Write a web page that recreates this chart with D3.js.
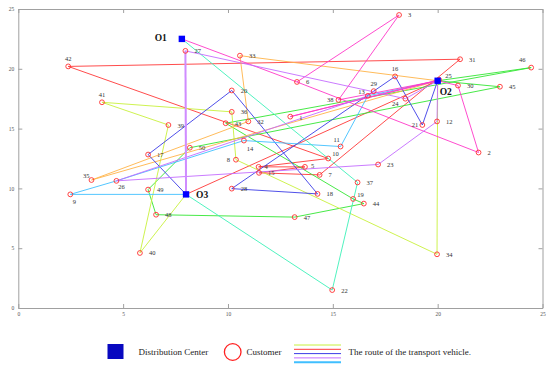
<!DOCTYPE html>
<html>
<head>
<meta charset="utf-8">
<script src="https://cdn.jsdelivr.net/npm/d3@7"></script>
<style>
  body { margin: 0; background: #fff; }
  text { font-family: "Liberation Serif", "DejaVu Serif", serif; }
</style>
</head>
<body>
<script>
// customers: id, x, y
var customers = [
  [1, 12.97, 16.0], [2, 21.95, 13.0], [3, 18.16, 24.5], [4, 11.46, 11.8], [5, 13.67, 11.8],
  [6, 13.29, 18.9], [7, 14.37, 11.13], [8, 10.38, 12.4], [9, 2.48, 9.5], [10, 14.78, 12.5],
  [11, 15.37, 13.5], [12, 19.97, 15.6], [13, 16.67, 17.74], [14, 10.76, 14.0], [15, 11.48, 11.3],
  [16, 17.97, 19.36], [17, 6.19, 12.83], [18, 14.27, 9.54], [19, 15.97, 9.12], [20, 10.18, 18.19],
  [21, 19.27, 15.3], [22, 14.97, 1.5], [23, 17.16, 12.0], [24, 18.46, 17.5], [25, 20.07, 19.08],
  [26, 4.68, 10.63], [27, 7.97, 21.5], [28, 10.18, 9.98], [29, 16.95, 18.13], [30, 20.97, 18.6],
  [31, 21.07, 20.8], [32, 10.97, 15.6], [33, 10.57, 21.1], [34, 19.97, 4.49], [35, 3.49, 10.7],
  [36, 10.18, 16.4], [37, 16.18, 10.5], [38, 15.27, 17.4], [39, 7.16, 15.3], [40, 5.8, 4.6],
  [41, 3.99, 17.2], [42, 2.38, 20.2], [43, 9.89, 15.45], [44, 16.48, 8.73], [45, 22.97, 18.5],
  [46, 24.46, 20.1], [47, 13.18, 7.6], [48, 6.57, 7.8], [49, 6.19, 9.9], [50, 8.18, 13.4]
];

var depots = [["O1", 7.8, 22.5], ["O2", 20, 19], ["O3", 8, 9.5]];

// vehicle routes as node sequences
var routes = [
  [31, 42, 10, 4, 5, 15, 7, 31],
  ["O3", "O2"],
  ["O2", 45, 50, 49, 48, 47, 44, 19, 43, 46, "O2"],
  ["O2", 34, 8, 36, 41, 39, 40, "O3"],
  ["O2", 33, 32, 35, "O2"],
  ["O2", 21, 16, 28, 18, 20, 17, "O3"],
  ["O3", 9, 26, 14, 11, 13, "O2"],
  ["O1", 37, 22, "O3"],
  ["O1", 6, 3, 38, "O2"],
  ["O2", 1, 25],
  ["O2", 30, 2, 6],
  ["O3", 27, 24, "O2"],
  ["O2", 12, 23, 26, 13],
  ["O3", 27]
];

var xTicks = [0, 5, 10, 15, 20, 25];
var yTicks = [0, 5, 10, 15, 20, 25];

var legendItems = ["Distribution Center", "Customer", "The route of the transport vehicle."];

// styling kept apart from the data
var routeColor = ["#ff3838", "#ff3838", "#33e633", "#c8f03c", "#ffb347", "#3c3ce6", "#40bfff",
                  "#3cf0b8", "#ff38c8", "#ff38c8", "#ff38c8", "#c46cff", "#c46cff", "#cf8cff"];
var routeWidth = [0.9, 0.9, 0.9, 0.9, 0.9, 0.9, 0.9, 0.9, 0.9, 0.9, 0.9, 0.9, 0.9, 2.0];
var legendLineColor = ["#c8f03c", "#ff3838", "#3c3ce6", "#c46cff", "#40bfff"];

// label placement [dx, dy, anchor]
var labelPos = {
  1: [9, 3, "start"], 4: [6, 2, "start"], 5: [6, 1, "start"], 8: [-6, 2, "end"],
  9: [4, 10, "middle"], 10: [4, -3, "start"], 11: [-4, -5, "middle"], 13: [-3, -2, "end"],
  14: [6, 10, "middle"], 16: [0, -5, "middle"], 19: [4, -2, "start"], 21: [-4, 2, "end"],
  24: [-10, 7, "middle"], 25: [6, -2, "start"], 26: [5, 8, "middle"], 29: [0, -5, "middle"],
  35: [-2, -2, "end"], 38: [-5, 2, "end"], 41: [0, -5, "middle"], 42: [0, -5, "middle"],
  46: [-9, -6, "middle"]
};

var W = 550, H = 368;
var svg = d3.select("body").append("svg").attr("width", W).attr("height", H);

var x = d3.scaleLinear().domain([0, 25]).range([18.3, 542.5]);
var y = d3.scaleLinear().domain([0, 25]).range([308, 9]);

function styleAxis(g) {
  g.selectAll(".domain").attr("stroke", "#a0a0a0");
  g.selectAll(".tick line").attr("stroke", "#a0a0a0");
  g.selectAll(".tick text").attr("font-size", 5.5).attr("fill", "#555")
    .attr("font-family", "Liberation Serif, serif");
}

svg.append("g").attr("transform", "translate(0," + y(0) + ")")
  .call(d3.axisBottom(x).tickValues(xTicks).tickSize(-4).tickSizeOuter(0).tickPadding(4))
  .call(styleAxis);
svg.append("g").attr("transform", "translate(0," + y(25) + ")")
  .call(d3.axisTop(x).tickValues(xTicks).tickSize(-4).tickSizeOuter(0).tickFormat(""))
  .call(styleAxis);
svg.append("g").attr("transform", "translate(" + x(0) + ",0)")
  .call(d3.axisLeft(y).tickValues(yTicks).tickSize(-4).tickSizeOuter(0).tickPadding(4))
  .call(styleAxis);
svg.append("g").attr("transform", "translate(" + x(25) + ",0)")
  .call(d3.axisRight(y).tickValues(yTicks).tickSize(-4).tickSizeOuter(0).tickFormat(""))
  .call(styleAxis);

var nodes = {};
customers.forEach(function(c) { nodes[c[0]] = [c[1], c[2]]; });
depots.forEach(function(d) { nodes[d[0]] = [d[1], d[2]]; });

var line = d3.line()
  .x(function(id) { return x(nodes[id][0]); })
  .y(function(id) { return y(nodes[id][1]); });

svg.append("g").selectAll("path").data(routes).enter().append("path")
  .attr("d", function(r) { return line(r); })
  .attr("fill", "none")
  .attr("stroke", function(r, i) { return routeColor[i]; })
  .attr("stroke-width", function(r, i) { return routeWidth[i]; })
  .attr("stroke-linejoin", "round");

svg.append("g").selectAll("circle").data(customers).enter().append("circle")
  .attr("cx", function(d) { return x(d[1]); })
  .attr("cy", function(d) { return y(d[2]); })
  .attr("r", 2.4)
  .attr("fill", "none")
  .attr("stroke", "#ff3030")
  .attr("stroke-width", 0.9);

svg.append("g").selectAll("text").data(customers).enter().append("text")
  .attr("x", function(d) { var p = labelPos[d[0]] || [9, 2.5, "start"]; return x(d[1]) + p[0]; })
  .attr("y", function(d) { var p = labelPos[d[0]] || [9, 2.5, "start"]; return y(d[2]) + p[1]; })
  .attr("text-anchor", function(d) { var p = labelPos[d[0]] || [9, 2.5, "start"]; return p[2]; })
  .attr("font-size", 6.5)
  .attr("fill", "#333")
  .text(function(d) { return d[0]; });

svg.append("g").selectAll("rect").data(depots).enter().append("rect")
  .attr("x", function(d) { return x(d[1]) - 3.2; })
  .attr("y", function(d) { return y(d[2]) - 3.2; })
  .attr("width", 6.4).attr("height", 6.4)
  .attr("fill", "#0000ff");

var depotLabel = { O1: [-15, 2, "end"], O2: [2, 14, "start"], O3: [10, 3.5, "start"] };
svg.append("g").selectAll("text").data(depots).enter().append("text")
  .attr("x", function(d) { return x(d[1]) + depotLabel[d[0]][0]; })
  .attr("y", function(d) { return y(d[2]) + depotLabel[d[0]][1]; })
  .attr("text-anchor", function(d) { return depotLabel[d[0]][2]; })
  .attr("font-size", 9.5)
  .attr("font-weight", "bold")
  .attr("fill", "#111")
  .text(function(d) { return d[0]; });

// legend
var lg = svg.append("g");
lg.append("rect").attr("x", 107.5).attr("y", 344).attr("width", 16).attr("height", 15)
  .attr("fill", "#0808c0");
lg.append("text").attr("x", 138.5).attr("y", 355).attr("font-size", 9).attr("fill", "#222")
  .text(legendItems[0]);
lg.append("circle").attr("cx", 232.7).attr("cy", 352).attr("r", 8.3)
  .attr("fill", "none").attr("stroke", "#ff2020").attr("stroke-width", 1.3);
lg.append("text").attr("x", 246.5).attr("y", 355).attr("font-size", 9).attr("fill", "#222")
  .text(legendItems[1]);
lg.selectAll("line").data(legendLineColor).enter().append("line")
  .attr("x1", 294).attr("x2", 341)
  .attr("y1", function(d, i) { return 345 + i * 4.3; })
  .attr("y2", function(d, i) { return 345 + i * 4.3; })
  .attr("stroke", function(d) { return d; })
  .attr("stroke-width", function(d, i) { return i === 4 ? 2 : 1; });
lg.append("text").attr("x", 348.5).attr("y", 355).attr("font-size", 9).attr("fill", "#222")
  .text(legendItems[2]);
</script>
</body>
</html>
